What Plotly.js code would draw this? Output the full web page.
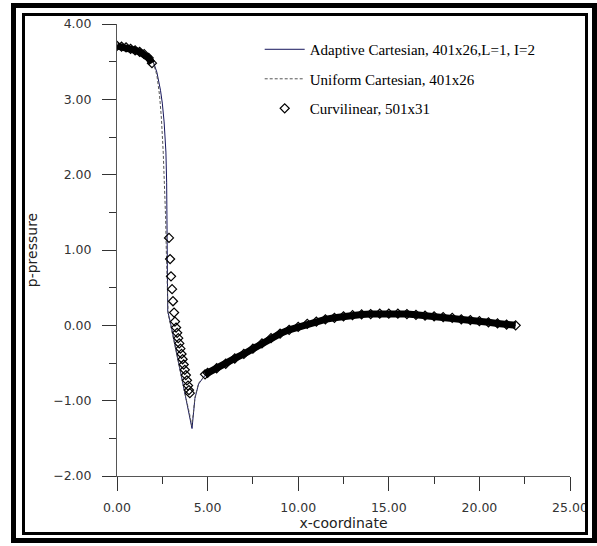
<!DOCTYPE html>
<html>
<head>
<meta charset="utf-8">
<script src="https://cdn.plot.ly/plotly-3.0.1.min.js"></script>
<style>
  html, body { margin: 0; padding: 0; background: #fff; }
  #wrap { position: relative; width: 597px; height: 546px; overflow: hidden; }
  #chart { position: absolute; left: 0; top: 0; width: 597px; height: 546px; }
  .frame { position: absolute; box-sizing: border-box; pointer-events: none; border-style: solid; border-color: #000; }
</style>
</head>
<body>
<div id="wrap">
  <div id="chart"></div>
  <div class="frame" style="left:11px;top:3px;width:586px;height:540px;border-width:5px;"></div>
  <div class="frame" style="left:22px;top:13px;width:566px;height:522px;border-width:3px;"></div>
</div>
<script>
// ---- data ----
const adaptX = [0, 0.5, 1.0, 1.5, 1.8, 2.0, 2.2, 2.4, 2.5, 2.6, 2.7, 2.74, 2.76, 2.77, 2.78, 2.8, 3.0, 3.4, 3.8, 4.0, 4.14, 4.2, 4.3, 4.5, 4.8, 5.0, 6, 7, 8, 9, 10, 11, 12, 13, 14, 15, 16, 17, 18, 19, 20, 21, 22];
const adaptY = [3.70, 3.68, 3.65, 3.60, 3.55, 3.50, 3.36, 3.12, 2.95, 2.70, 2.30, 1.90, 1.40, 0.80, 0.40, 0.19, -0.02, -0.50, -0.95, -1.18, -1.37, -1.22, -0.97, -0.78, -0.68, -0.64, -0.50, -0.36, -0.22, -0.10, -0.01, 0.05, 0.10, 0.13, 0.15, 0.155, 0.15, 0.13, 0.10, 0.07, 0.045, 0.02, 0.0];

const uniformX = [0, 0.5, 1.0, 1.5, 1.8, 2.0, 2.2, 2.35, 2.45, 2.55, 2.62, 2.68, 2.72, 2.75, 2.78, 2.82, 3.0, 3.4, 3.8, 4.0, 4.12, 4.2, 4.3, 4.5, 4.8, 5.0, 6, 7, 8, 9, 10, 11, 12, 13, 14, 15, 16, 17, 18, 19, 20, 21, 22];
const uniformY = [3.70, 3.68, 3.65, 3.60, 3.55, 3.49, 3.32, 3.05, 2.75, 2.30, 1.90, 1.45, 1.00, 0.60, 0.30, 0.15, -0.05, -0.52, -0.96, -1.17, -1.33, -1.20, -0.96, -0.77, -0.68, -0.64, -0.50, -0.36, -0.22, -0.10, -0.01, 0.05, 0.10, 0.13, 0.15, 0.155, 0.15, 0.13, 0.10, 0.07, 0.045, 0.02, 0.0];

// Curvilinear, 501x31 : dense upstream part, sparse shock part, dense downstream part
const curvUpX = [0, 0.25, 0.5, 0.75, 1.0, 1.25, 1.5, 1.75, 1.93];
const curvUpY = [3.71, 3.70, 3.69, 3.67, 3.65, 3.63, 3.60, 3.55, 3.48];
const curvShockX = [2.87, 2.93, 2.98, 3.04, 3.09, 3.15, 3.20, 3.26, 3.32, 3.38, 3.44, 3.50, 3.56, 3.62, 3.68, 3.74, 3.80, 3.86, 3.92, 3.97, 4.02];
const curvShockY = [1.16, 0.88, 0.65, 0.48, 0.32, 0.17, 0.05, -0.03, -0.10, -0.17, -0.24, -0.31, -0.38, -0.45, -0.52, -0.59, -0.66, -0.73, -0.80, -0.86, -0.90];
const curvDownX = [4.86, 5.0, 5.5, 6.0, 6.5, 7.0, 7.5, 8.0, 8.5, 9.0, 9.5, 10.0, 10.5, 11.0, 11.5, 12.0, 12.5, 13.0, 13.5, 14.0, 14.5, 15.0, 15.5, 16.0, 16.5, 17.0, 17.5, 18.0, 18.5, 19.0, 19.5, 20.0, 20.5, 21.0, 21.5, 22.0];
const curvDownY = [-0.65, -0.63, -0.57, -0.51, -0.44, -0.38, -0.31, -0.24, -0.17, -0.11, -0.06, -0.02, 0.02, 0.05, 0.08, 0.10, 0.12, 0.135, 0.145, 0.15, 0.155, 0.155, 0.155, 0.15, 0.14, 0.13, 0.12, 0.11, 0.10, 0.08, 0.07, 0.055, 0.04, 0.025, 0.01, 0.0];

const legendFont = {family: '"Liberation Serif", "Times New Roman", serif', size: 15, color: '#000'};
const tickFont = {family: '"DejaVu Sans", Verdana, sans-serif', size: 12.5, color: '#333'};
const titleFont = {family: '"DejaVu Sans", Verdana, sans-serif', size: 14, color: '#222'};

const traces = [
  {x: adaptX, y: adaptY, type: 'scatter', mode: 'lines', name: 'Adaptive Cartesian, 401x26,L=1, I=2',
   line: {color: '#16165c', width: 1}, legendgroup: 'a'},
  {x: uniformX, y: uniformY, type: 'scatter', mode: 'lines', name: 'Uniform Cartesian, 401x26',
   line: {color: '#555', width: 1, dash: '3px,2px'}, legendgroup: 'b'},
  {x: curvUpX, y: curvUpY, type: 'scatter', mode: 'lines', showlegend: false, hoverinfo: 'skip',
   line: {color: '#000', width: 7}},
  {x: curvDownX, y: curvDownY, type: 'scatter', mode: 'lines', showlegend: false, hoverinfo: 'skip',
   line: {color: '#000', width: 7}},
  {x: curvUpX.concat(curvShockX, curvDownX), y: curvUpY.concat(curvShockY, curvDownY),
   type: 'scatter', mode: 'markers', name: 'Curvilinear, 501x31', legendgroup: 'c',
   marker: {symbol: 'diamond-open', size: 7, color: '#000', line: {width: 1.2, color: '#000'}}}
];

const layout = {
  width: 597, height: 546,
  margin: {l: 117, r: 27, t: 24, b: 70},
  paper_bgcolor: '#fff', plot_bgcolor: '#fff',
  showlegend: true,
  legend: {x: 0.315, y: 0.98, xanchor: 'left', yanchor: 'top', bgcolor: 'rgba(0,0,0,0)',
           font: legendFont, traceorder: 'grouped', tracegroupgap: 7, itemwidth: 40},
  xaxis: {
    range: [0, 25], tick0: 0, dtick: 5, tickformat: '.2f',
    ticks: 'outside', ticklen: 14, tickwidth: 1, tickcolor: '#333', ticklabelstandoff: 6,
    minor: {ticks: 'outside', ticklen: 7, tick0: 0, dtick: 2.5, tickcolor: '#333', tickwidth: 1},
    showline: true, linecolor: '#555', linewidth: 1, showgrid: false, zeroline: false,
    tickfont: tickFont,
    title: {text: 'x-coordinate', font: titleFont, standoff: 0}
  },
  yaxis: {
    range: [-2, 4], tick0: 0, dtick: 1, tickformat: '.2f',
    ticks: 'outside', ticklen: 14, tickwidth: 1, tickcolor: '#333', ticklabelstandoff: 8,
    minor: {ticks: 'outside', ticklen: 7, tick0: 0, dtick: 0.5, tickcolor: '#333', tickwidth: 1},
    showline: true, linecolor: '#555', linewidth: 1, showgrid: false, zeroline: false,
    tickfont: tickFont,
    title: {text: 'p-pressure', font: titleFont, standoff: 12}
  }
};

Plotly.newPlot('chart', traces, layout, {displayModeBar: false, staticPlot: true});
</script>
</body>
</html>
